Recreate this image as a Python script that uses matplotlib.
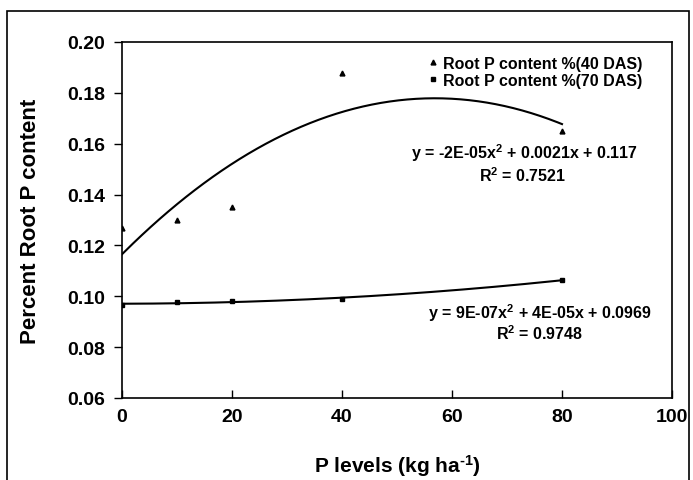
import numpy as np
import matplotlib
matplotlib.use("Agg")
import matplotlib.pyplot as plt
from matplotlib.patches import Rectangle

plt.rcParams['font.family'] = ['Liberation Sans', 'DejaVu Sans']
plt.rcParams['font.weight'] = 'bold'
plt.rcParams['mathtext.fontset'] = 'custom'
plt.rcParams['mathtext.rm'] = 'Liberation Sans:bold'
plt.rcParams['mathtext.bf'] = 'Liberation Sans:bold'
plt.rcParams['mathtext.it'] = 'Liberation Sans:bold'
plt.rcParams['mathtext.default'] = 'bf'

p_levels = [0, 10, 20, 40, 80]
root_p_40 = [0.127, 0.130, 0.135, 0.188, 0.165]
root_p_70 = [0.0966, 0.0978, 0.098, 0.099, 0.1064]
eq_40 = "y = -2E-05x$^{2}$ + 0.0021x + 0.117"
r2_40 = "R$^{2}$ = 0.7521"
eq_70 = "y = 9E-07x$^{2}$ + 4E-05x + 0.0969"
r2_70 = "R$^{2}$ = 0.9748"
xticks = [0, 20, 40, 60, 80, 100]
yticks = [0.06, 0.08, 0.10, 0.12, 0.14, 0.16, 0.18, 0.20]

W, H = 693, 481
fig = plt.figure(figsize=(W/100, H/100), dpi=100)
ax = fig.add_axes([122/W, 1-399/H, (672-122)/W, (399-43)/H])

ax.plot(p_levels, root_p_40, linestyle='none', marker='^', color='black',
        markersize=3.5, label='Root P content %(40 DAS)')
ax.plot(p_levels, root_p_70, linestyle='none', marker='s', color='black',
        markersize=3, label='Root P content %(70 DAS)')

xs = np.linspace(0, 80, 200)
c40 = np.polyfit(p_levels, root_p_40, 2)
c70 = np.polyfit(p_levels, root_p_70, 2)
ax.plot(xs, np.polyval(c40, xs), color='black', lw=1.5)
ax.plot(xs, np.polyval(c70, xs), color='black', lw=1.5)

ax.set_xlim(0, 100)
ax.set_ylim(0.06, 0.20)
ax.set_xticks(xticks)
ax.set_xticklabels([str(t) for t in xticks])
ax.set_yticks(yticks)
ax.set_yticklabels([f"{t:.2f}" for t in yticks])
ax.tick_params(axis='x', direction='in', length=6, width=1, labelsize=14, pad=7)
ax.tick_params(axis='y', direction='out', length=6, width=1, labelsize=14, pad=6)
for lab in ax.get_xticklabels() + ax.get_yticklabels():
    lab.set_fontweight('bold')
for s in ax.spines.values():
    s.set_linewidth(1.2)

ax.set_xlabel(r"P levels (kg ha$^{\text{-}1}$)", fontsize=15, fontweight='bold')
ax.set_ylabel("Percent Root P content", fontsize=16, fontweight='bold')
ax.xaxis.set_label_coords(0.5, -(453 - 399) / 356)
ax.yaxis.set_label_coords((41 - 122) / 550, 0.5)

leg = ax.legend(loc='upper left', frameon=False, fontsize=11.5, handlelength=0.5,
                handletextpad=0.4, borderaxespad=0, borderpad=0, labelspacing=0.12,
                bbox_to_anchor=((429 - 122) / 550, (399 - 57) / 356))
for t in leg.get_texts():
    t.set_fontweight('bold')

def px(x, y):
    return (x / W, 1 - y / H)

fig.text(*px(524, 153), eq_40, ha='center', va='center', fontsize=11.5, fontweight='bold')
fig.text(*px(523, 176), r2_40, ha='center', va='center', fontsize=11.5, fontweight='bold')
fig.text(*px(540, 313), eq_70, ha='center', va='center', fontsize=11.5, fontweight='bold')
fig.text(*px(540, 334), r2_70, ha='center', va='center', fontsize=11.5, fontweight='bold')

fig.patches.append(Rectangle((7/W, -0.05), (689-7)/W, 1.05 - 12/H, transform=fig.transFigure,
                             fill=False, edgecolor='black', lw=1.2))

fig.savefig("out.png", dpi=100)
